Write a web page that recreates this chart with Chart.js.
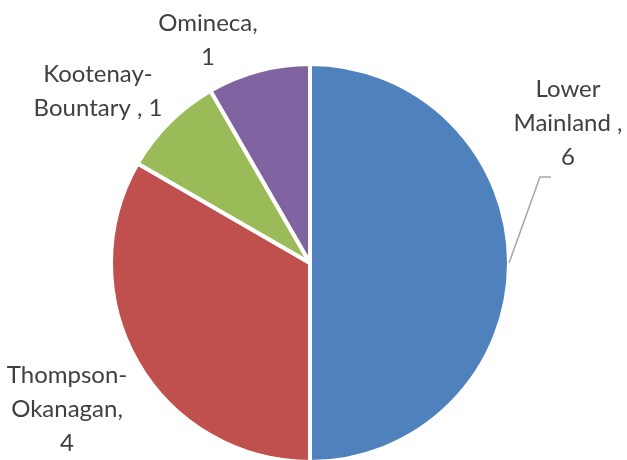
<!DOCTYPE html>
<html>
<head>
<meta charset="utf-8">
<script src="https://cdn.jsdelivr.net/npm/chart.js@4"></script>
<style>
  html, body { margin: 0; padding: 0; background: #ffffff; }
  #wrap { width: 627px; height: 460px; }
</style>
</head>
<body>
<div id="wrap"><canvas id="c" width="627" height="460"></canvas></div>
<script>
// ---- data ----
const categories = ["Lower Mainland", "Thompson-Okanagan", "Kootenay-Bountary", "Omineca"];
const values = [6, 4, 1, 1];
// label text broken into lines as in the reference (value appended)
const labelLines = [["Lower", "Mainland ,"], ["Thompson-", "Okanagan,"], ["Kootenay-", "Bountary , {v}"], ["Omineca,"]];
const colors = ["#4F81BD", "#C0504D", "#9BBB59", "#8064A2"];

// ---- label placement (style, relative to pie centre) ----
const labelOffsets = [[258, -140], [-243, 146], [-212, -172], [-102, -223]];
const leader = { index: 0, elbow: [230, -86], end: [241, -86] };
const LINE_H = 34;

const labelPlugin = {
  id: 'pieLabels',
  afterDatasetsDraw(chart) {
    const ctx = chart.ctx;
    const meta = chart.getDatasetMeta(0);
    ctx.save();
    // leader line
    const a = meta.data[leader.index];
    const mid = (a.startAngle + a.endAngle) / 2;
    const sx = a.x + Math.cos(mid) * a.outerRadius;
    const sy = a.y + Math.sin(mid) * a.outerRadius;
    ctx.strokeStyle = "#A6A6A6";
    ctx.lineWidth = 1.5;
    ctx.beginPath();
    ctx.moveTo(sx, sy);
    ctx.lineTo(a.x + leader.elbow[0], a.y + leader.elbow[1]);
    ctx.lineTo(a.x + leader.end[0], a.y + leader.end[1]);
    ctx.stroke();

    ctx.fillStyle = "#404040";
    ctx.font = "24px Lato, 'Open Sans', sans-serif";
    ctx.textAlign = "center";
    ctx.textBaseline = "middle";
    meta.data.forEach((arc, i) => {
      const v = values[i];
      let lines = labelLines[i].map(s => s.replace("{v}", v));
      if (!labelLines[i].some(s => s.includes("{v}"))) lines = lines.concat([String(v)]);
      const cx = arc.x + labelOffsets[i][0];
      const cy = arc.y + labelOffsets[i][1];
      const top = cy - (lines.length - 1) * LINE_H / 2;
      lines.forEach((ln, k) => ctx.fillText(ln, cx, top + k * LINE_H));
    });
    ctx.restore();
  }
};

new Chart(document.getElementById('c'), {
  type: 'pie',
  data: {
    labels: categories,
    datasets: [{
      data: values,
      backgroundColor: colors,
      borderColor: "#ffffff",
      borderWidth: 4
    }]
  },
  options: {
    responsive: false,
    animation: false,
    radius: 199,
    layout: { padding: { left: 100, right: 107, top: 66, bottom: 0 } },
    plugins: {
      legend: { display: false },
      tooltip: { enabled: false }
    }
  },
  plugins: [labelPlugin]
});
</script>
</body>
</html>
